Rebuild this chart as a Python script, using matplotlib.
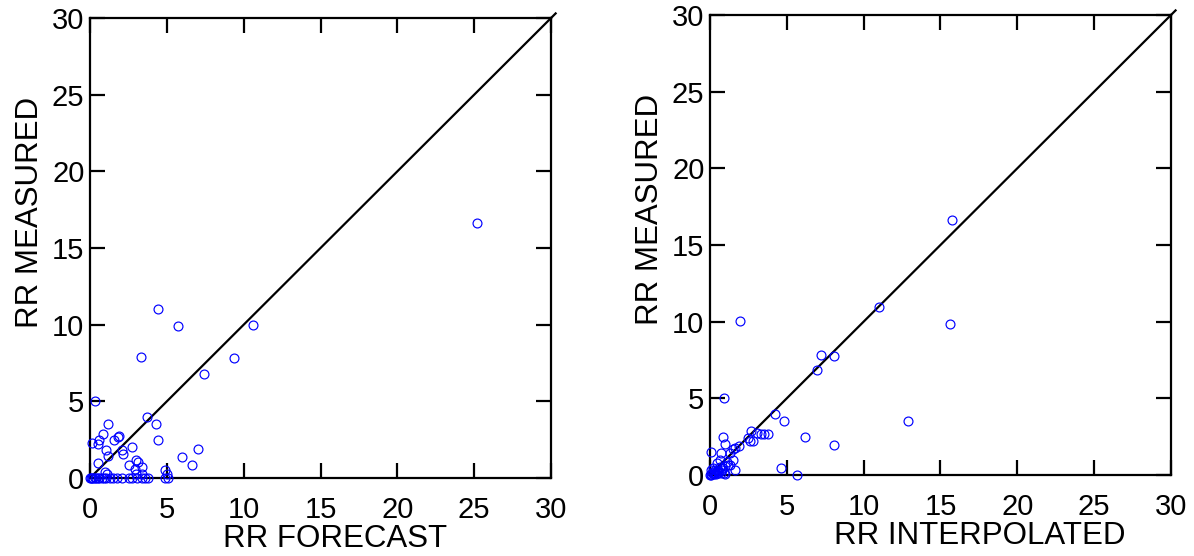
import numpy as np
import matplotlib
matplotlib.use("Agg")
import matplotlib.pyplot as plt

plt.rcParams['font.family'] = ['Liberation Sans', 'DejaVu Sans']

# forecast vs measured precipitation
forecast = [25.2, 4.4, 5.7, 10.6, 3.3, 9.4, 7.4, 0.3, 3.7, 4.3, 1.2, 0.85,
            1.9, 1.8, 1.55, 4.4, 0.6, 0.15, 0.5, 2.7, 1.05, 7.0, 2.1, 2.15,
            1.2, 6.0, 0.55, 3.0, 3.1, 2.55, 6.65, 3.35, 2.9, 4.9, 1.0,
            1.1, 3.0, 3.35, 5.0,
            0.0, 0.05, 0.1, 0.2, 0.3, 0.4, 0.5, 0.6, 0.75, 0.9, 1.05, 1.3,
            1.5, 1.75, 2.05, 2.55, 2.7, 3.05, 3.35, 3.6, 3.8, 4.9, 5.1]
measured_f = [16.6, 11.0, 9.9, 10.0, 7.9, 7.8, 6.8, 5.0, 4.0, 3.5, 3.5, 2.9,
              2.75, 2.65, 2.5, 2.5, 2.45, 2.3, 2.2, 2.05, 1.85, 1.9, 1.8, 1.55,
              1.45, 1.4, 1.0, 1.15, 1.05, 0.85, 0.85, 0.7, 0.6, 0.5, 0.4,
              0.25, 0.25, 0.25, 0.25,
              0.0, 0.0, 0.0, 0.0, 0.0, 0.0, 0.0, 0.0, 0.0, 0.0, 0.0, 0.0,
              0.0, 0.0, 0.0, 0.0, 0.0, 0.0, 0.0, 0.0, 0.0, 0.0, 0.0]

# interpolated vs measured precipitation
interpolated = [15.75, 11.0, 15.6, 1.95, 7.2, 8.05, 6.95, 0.9, 4.25, 4.85, 12.9,
                6.2, 8.1, 4.65, 5.65,
                2.7, 3.05, 3.3, 3.5, 3.75, 2.5, 2.8, 2.6, 0.85, 1.0, 1.65, 1.9,
                0.05, 0.75, 1.3, 1.5, 1.1, 0.65, 1.0, 1.63, 1.3, 1.2, 0.45,
                0.65, 0.85, 1.5,
                0.0, 0.05, 0.1, 0.15, 0.2, 0.25, 0.3, 0.35, 0.4, 0.45, 0.5,
                0.55, 0.6, 0.7, 0.8, 0.9, 1.0, 0.1, 0.2]
measured_i = [16.6, 10.95, 9.85, 10.05, 7.85, 7.75, 6.85, 5.0, 4.0, 3.5, 3.5,
              2.5, 1.95, 0.45, 0.0,
              2.9, 2.72, 2.7, 2.7, 2.7, 2.4, 2.2, 2.2, 2.45, 2.05, 1.78, 1.9,
              1.52, 1.45, 1.45, 1.0, 0.87, 1.0, 0.6, 0.35, 0.65, 0.65, 0.75,
              0.55, 0.45, 1.7,
              0.0, 0.05, 0.0, 0.1, 0.2, 0.05, 0.3, 0.15, 0.05, 0.25, 0.1,
              0.35, 0.2, 0.1, 0.3, 0.15, 0.05, 0.3, 0.45]

ticks = [0, 5, 10, 15, 20, 25, 30]

fig = plt.figure(figsize=(11.94, 5.56), dpi=100)
ax1 = fig.add_axes([0.0754, 0.1403, 0.3861, 0.8273])
ax2 = fig.add_axes([0.5946, 0.1457, 0.3861, 0.8273])


def panel(ax, x, y, xlabel, xlabel_pos):
    ax.plot([0, 30.3], [0, 30.3], color='black', lw=1.6, clip_on=False, zorder=2)
    ax.plot(x, y, linestyle='none', marker='o', ms=6.4, mfc='none',
            mec='#0000ff', mew=0.85, clip_on=False, zorder=3)
    ax.set_xlim(0, 30)
    ax.set_ylim(0, 30)
    ax.set_xticks(ticks)
    ax.set_yticks(ticks)
    for s in ax.spines.values():
        s.set_linewidth(1.6)
    ax.tick_params(direction='in', length=10.5, width=1.6, top=True, right=True,
                   labelsize=21)
    ax.tick_params(axis='x', pad=13)
    ax.tick_params(axis='y', pad=4)
    ax.set_xlabel(xlabel, fontsize=22.5)
    ax.set_ylabel('RR MEASURED', fontsize=22.5, labelpad=5)
    ax.xaxis.set_label_coords(xlabel_pos, -0.1, transform=ax.transAxes)
    ax.yaxis.label.set_y(0.578)


panel(ax1, forecast, measured_f, 'RR FORECAST', 0.531)
panel(ax2, interpolated, measured_i, 'RR INTERPOLATED', 0.586)

fig.savefig('out.png', dpi=100)
